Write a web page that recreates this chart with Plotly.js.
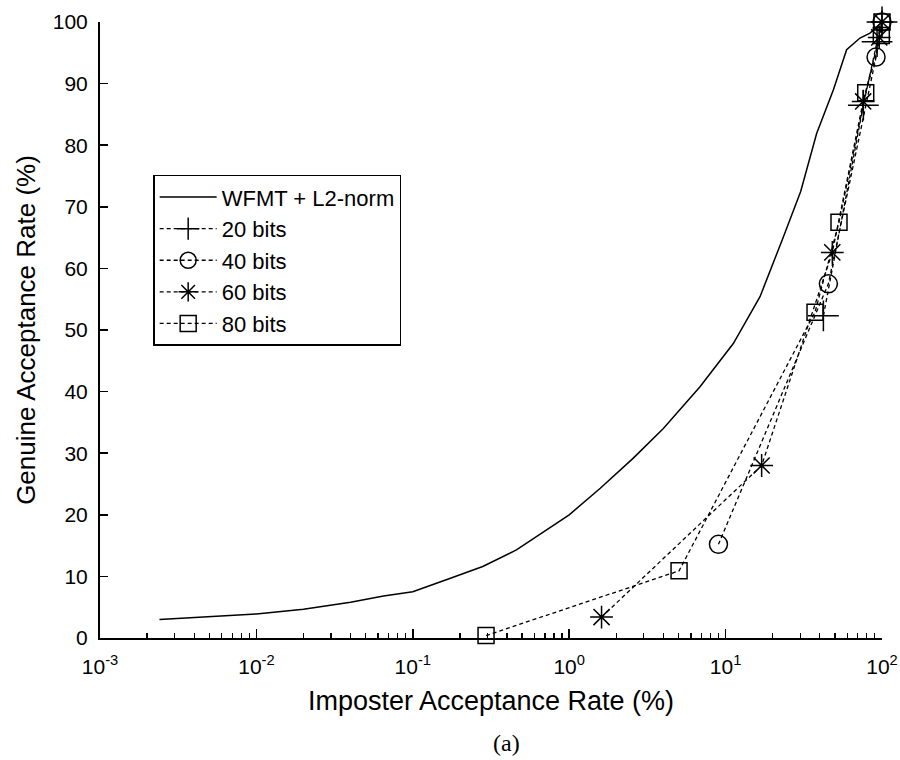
<!DOCTYPE html>
<html>
<head>
<meta charset="utf-8">
<script src="https://cdn.plot.ly/plotly-3.0.1.min.js"></script>
<style>html,body{margin:0;padding:0;background:#fff;}#chart{width:900px;height:760px;}</style>
</head>
<body>
<div id="chart"></div>
<script>
// ---- data ----
const wfmtX = [0.0024, 0.005, 0.01, 0.02, 0.04, 0.065, 0.1, 0.174, 0.28, 0.46, 0.75, 1.0, 1.58, 2.57, 4.0, 6.86, 11.2, 16.6, 23.4, 30.2, 38.2, 48.9, 59.4, 72.3, 83.8, 100];
const wfmtY = [3.0, 3.5, 3.9, 4.65, 5.8, 6.8, 7.5, 9.7, 11.6, 14.3, 17.8, 20.0, 24.3, 29.2, 34.0, 40.8, 47.8, 55.4, 65.1, 72.5, 81.9, 89.0, 95.5, 97.4, 98.2, 100];

const bits20X = [42.2, 76, 93, 100];
const bits20Y = [52.3, 86.5, 96.8, 100];

const bits40X = [9.0, 45.4, 91.6, 100];
const bits40Y = [15.2, 57.5, 94.3, 100];

const bits60X = [1.61, 17.0, 48.1, 75.8, 96, 100];
const bits60Y = [3.4, 28.0, 62.6, 87.1, 97.5, 100];

const bits80X = [0.294, 5.04, 37.3, 53.1, 78.7, 99, 100];
const bits80Y = [0.4, 10.9, 52.9, 67.5, 88.5, 97.8, 100];

const seriesNames = ['WFMT + L2-norm', '20 bits', '40 bits', '60 bits', '80 bits'];

const xTickVals = [0.001, 0.01, 0.1, 1, 10, 100];
const xTickText = ['10<sup>-3</sup>', '10<sup>-2</sup>', '10<sup>-1</sup>', '10<sup>0</sup>', '10<sup>1</sup>', '10<sup>2</sup>'];
const yTickVals = [0, 10, 20, 30, 40, 50, 60, 70, 80, 90, 100];
const yTickText = ['0', '10', '20', '30', '40', '50', '60', '70', '80', '90', '100'];

const xTitle = 'Imposter Acceptance Rate (%)';
const yTitle = 'Genuine Acceptance Rate (%)';
const caption = '(a)';

// ---- styling ----
const sans = 'Liberation Sans, Arial, Helvetica, sans-serif';
const dashed = '4px,3px';
function bitTrace(x, y, name, symbol, size) {
  return {
    x: x, y: y, name: name, type: 'scatter', mode: 'lines+markers', cliponaxis: false,
    line: {color: 'black', width: 1.3, dash: dashed},
    marker: {symbol: symbol, size: size, color: 'black', line: {color: 'black', width: 1.5}}
  };
}

const traces = [
  {x: wfmtX, y: wfmtY, name: seriesNames[0], type: 'scatter', mode: 'lines', cliponaxis: false,
   line: {color: 'black', width: 1.5}},
  bitTrace(bits20X, bits20Y, seriesNames[1], 'cross-thin-open', 22),
  bitTrace(bits40X, bits40Y, seriesNames[2], 'circle-open', 18),
  bitTrace(bits60X, bits60Y, seriesNames[3], 'asterisk-open', 19),
  bitTrace(bits80X, bits80Y, seriesNames[4], 'square-open', 16)
];

const layout = {
  width: 900, height: 760,
  paper_bgcolor: 'white', plot_bgcolor: 'white',
  margin: {l: 100, r: 18, t: 22, b: 122},
  font: {family: sans, color: 'black', size: 21},
  showlegend: true,
  legend: {
    x: 0.068, y: 0.752, xanchor: 'left', yanchor: 'top',
    bordercolor: 'black', borderwidth: 1.5, bgcolor: 'white',
    font: {family: sans, size: 22, color: 'black'},
    traceorder: 'normal', itemwidth: 57
  },
  xaxis: {
    type: 'log', range: [-3, 2],
    tickmode: 'array', tickvals: xTickVals, ticktext: xTickText,
    ticks: 'inside', ticklen: 9, tickwidth: 1.5, tickcolor: 'black',
    minor: {ticks: 'inside', ticklen: 5, tickwidth: 1.3, tickcolor: 'black', dtick: 'D1', showgrid: false},
    showline: true, linecolor: 'black', linewidth: 2, mirror: false,
    showgrid: false, zeroline: false,
    ticklabelstandoff: 9,
    tickfont: {family: sans, size: 21, color: 'black'},
    title: {text: xTitle, font: {family: sans, size: 27, color: 'black'}, standoff: 14}
  },
  yaxis: {
    range: [0, 100],
    tickmode: 'array', tickvals: yTickVals, ticktext: yTickText,
    ticks: 'inside', ticklen: 8, tickwidth: 1.5, tickcolor: 'black',
    showline: true, linecolor: 'black', linewidth: 2, mirror: false,
    showgrid: false, zeroline: false,
    ticklabelstandoff: 6,
    tickfont: {family: sans, size: 21, color: 'black'},
    title: {text: yTitle, font: {family: sans, size: 26, color: 'black'}, standoff: 10}
  },
  annotations: [{
    text: caption, xref: 'paper', yref: 'paper', x: 0.52, y: -0.17,
    xanchor: 'center', yanchor: 'middle', showarrow: false,
    font: {family: 'Liberation Serif, Times New Roman, serif', size: 24, color: 'black'}
  }]
};

Plotly.newPlot('chart', traces, layout, {displayModeBar: false, staticPlot: true});
</script>
</body>
</html>
